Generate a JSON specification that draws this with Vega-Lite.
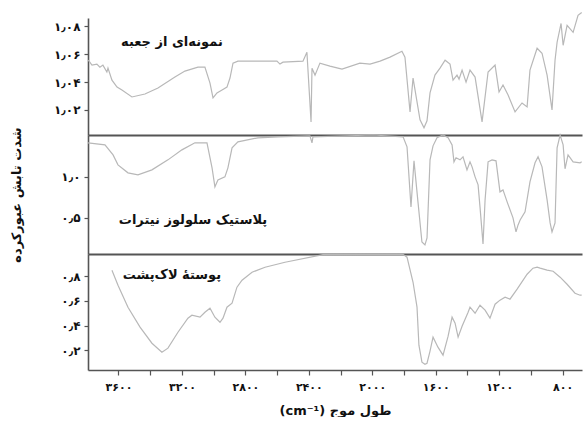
{
  "$schema": "https://vega.github.io/schema/vega-lite/v6.json",
  "padding": {"left": 10, "top": 10, "right": 0, "bottom": 0},
  "spacing": 0,
  "bounds": "flush",
  "background": "white",
  "config": {
    "view": {"stroke": null},
    "font": "DejaVu Sans",
    "concat": {"spacing": 0},
    "axis": {
      "grid": false,
      "domainColor": "#555555",
      "domainWidth": 1.6,
      "tickColor": "#555555",
      "tickWidth": 1.2,
      "tickSize": 4,
      "labelColor": "#111111",
      "labelFont": "DejaVu Sans",
      "labelFontWeight": "bold",
      "labelFontSize": 11,
      "labelPadding": 4,
      "labelOverlap": false,
      "titleFont": "DejaVu Sans",
      "titleFontWeight": "bold",
      "titleFontSize": 13,
      "titleColor": "#111111"
    }
  },
  "datasets": {
    "box": [
      {"wavenumber": 3790, "transmittance": 1.0557}, {"wavenumber": 3767, "transmittance": 1.0522}, {"wavenumber": 3736, "transmittance": 1.0529}, {"wavenumber": 3717, "transmittance": 1.0507}, {"wavenumber": 3698, "transmittance": 1.0522}, {"wavenumber": 3673, "transmittance": 1.0472}, {"wavenumber": 3666, "transmittance": 1.05}, {"wavenumber": 3641, "transmittance": 1.0414}, {"wavenumber": 3609, "transmittance": 1.0364}, {"wavenumber": 3578, "transmittance": 1.0343}, {"wavenumber": 3515, "transmittance": 1.0293}, {"wavenumber": 3433, "transmittance": 1.0314}, {"wavenumber": 3351, "transmittance": 1.0357}, {"wavenumber": 3244, "transmittance": 1.0436}, {"wavenumber": 3181, "transmittance": 1.0479}, {"wavenumber": 3099, "transmittance": 1.0507}, {"wavenumber": 3055, "transmittance": 1.0507}, {"wavenumber": 3023, "transmittance": 1.0393}, {"wavenumber": 3004, "transmittance": 1.0286}, {"wavenumber": 2979, "transmittance": 1.0322}, {"wavenumber": 2947, "transmittance": 1.0343}, {"wavenumber": 2916, "transmittance": 1.0364}, {"wavenumber": 2897, "transmittance": 1.0429}, {"wavenumber": 2878, "transmittance": 1.0536}, {"wavenumber": 2847, "transmittance": 1.055}, {"wavenumber": 2721, "transmittance": 1.055}, {"wavenumber": 2601, "transmittance": 1.055}, {"wavenumber": 2582, "transmittance": 1.0529}, {"wavenumber": 2563, "transmittance": 1.0543}, {"wavenumber": 2437, "transmittance": 1.055}, {"wavenumber": 2412, "transmittance": 1.0614}, {"wavenumber": 2386, "transmittance": 1.0114}, {"wavenumber": 2380, "transmittance": 1.05}, {"wavenumber": 2361, "transmittance": 1.045}, {"wavenumber": 2330, "transmittance": 1.0536}, {"wavenumber": 2267, "transmittance": 1.0514}, {"wavenumber": 2191, "transmittance": 1.0493}, {"wavenumber": 2078, "transmittance": 1.0536}, {"wavenumber": 2014, "transmittance": 1.0529}, {"wavenumber": 1951, "transmittance": 1.055}, {"wavenumber": 1888, "transmittance": 1.0579}, {"wavenumber": 1813, "transmittance": 1.0621}, {"wavenumber": 1794, "transmittance": 1.0579}, {"wavenumber": 1762, "transmittance": 1.0186}, {"wavenumber": 1743, "transmittance": 1.0429}, {"wavenumber": 1699, "transmittance": 1.0129}, {"wavenumber": 1674, "transmittance": 1.0072}, {"wavenumber": 1655, "transmittance": 1.0122}, {"wavenumber": 1636, "transmittance": 1.0322}, {"wavenumber": 1605, "transmittance": 1.045}, {"wavenumber": 1573, "transmittance": 1.05}, {"wavenumber": 1541, "transmittance": 1.0557}, {"wavenumber": 1510, "transmittance": 1.0529}, {"wavenumber": 1491, "transmittance": 1.0414}, {"wavenumber": 1466, "transmittance": 1.045}, {"wavenumber": 1453, "transmittance": 1.0421}, {"wavenumber": 1434, "transmittance": 1.0486}, {"wavenumber": 1409, "transmittance": 1.04}, {"wavenumber": 1384, "transmittance": 1.0486}, {"wavenumber": 1352, "transmittance": 1.0436}, {"wavenumber": 1308, "transmittance": 1.0114}, {"wavenumber": 1270, "transmittance": 1.0472}, {"wavenumber": 1226, "transmittance": 1.0522}, {"wavenumber": 1201, "transmittance": 1.0329}, {"wavenumber": 1176, "transmittance": 1.0379}, {"wavenumber": 1144, "transmittance": 1.0307}, {"wavenumber": 1100, "transmittance": 1.0186}, {"wavenumber": 1056, "transmittance": 1.025}, {"wavenumber": 1024, "transmittance": 1.0222}, {"wavenumber": 1006, "transmittance": 1.0486}, {"wavenumber": 961, "transmittance": 1.0643}, {"wavenumber": 930, "transmittance": 1.0607}, {"wavenumber": 898, "transmittance": 1.045}, {"wavenumber": 867, "transmittance": 1.02}, {"wavenumber": 848, "transmittance": 1.0557}, {"wavenumber": 835, "transmittance": 1.0686}, {"wavenumber": 810, "transmittance": 1.0821}, {"wavenumber": 797, "transmittance": 1.0664}, {"wavenumber": 772, "transmittance": 1.0807}, {"wavenumber": 734, "transmittance": 1.0757}, {"wavenumber": 703, "transmittance": 1.0879}, {"wavenumber": 680, "transmittance": 1.09}
    ],
    "nitrocellulose": [
      {"wavenumber": 3792, "transmittance": 1.415}, {"wavenumber": 3685, "transmittance": 1.39}, {"wavenumber": 3634, "transmittance": 1.268}, {"wavenumber": 3603, "transmittance": 1.146}, {"wavenumber": 3540, "transmittance": 1.049}, {"wavenumber": 3477, "transmittance": 1.024}, {"wavenumber": 3389, "transmittance": 1.085}, {"wavenumber": 3288, "transmittance": 1.207}, {"wavenumber": 3200, "transmittance": 1.329}, {"wavenumber": 3118, "transmittance": 1.415}, {"wavenumber": 3042, "transmittance": 1.415}, {"wavenumber": 3010, "transmittance": 1.11}, {"wavenumber": 2992, "transmittance": 0.878}, {"wavenumber": 2973, "transmittance": 0.963}, {"wavenumber": 2929, "transmittance": 1.0}, {"wavenumber": 2910, "transmittance": 1.11}, {"wavenumber": 2884, "transmittance": 1.354}, {"wavenumber": 2847, "transmittance": 1.427}, {"wavenumber": 2721, "transmittance": 1.476}, {"wavenumber": 2594, "transmittance": 1.488}, {"wavenumber": 2393, "transmittance": 1.5}, {"wavenumber": 2380, "transmittance": 1.415}, {"wavenumber": 2374, "transmittance": 1.488}, {"wavenumber": 1995, "transmittance": 1.51}, {"wavenumber": 1806, "transmittance": 1.488}, {"wavenumber": 1781, "transmittance": 1.366}, {"wavenumber": 1756, "transmittance": 0.634}, {"wavenumber": 1737, "transmittance": 1.195}, {"wavenumber": 1712, "transmittance": 0.695}, {"wavenumber": 1687, "transmittance": 0.207}, {"wavenumber": 1668, "transmittance": 0.17}, {"wavenumber": 1655, "transmittance": 0.256}, {"wavenumber": 1636, "transmittance": 1.207}, {"wavenumber": 1617, "transmittance": 1.378}, {"wavenumber": 1592, "transmittance": 1.476}, {"wavenumber": 1554, "transmittance": 1.51}, {"wavenumber": 1522, "transmittance": 1.476}, {"wavenumber": 1497, "transmittance": 1.39}, {"wavenumber": 1485, "transmittance": 1.183}, {"wavenumber": 1472, "transmittance": 1.232}, {"wavenumber": 1447, "transmittance": 1.207}, {"wavenumber": 1428, "transmittance": 1.244}, {"wavenumber": 1403, "transmittance": 1.085}, {"wavenumber": 1384, "transmittance": 1.183}, {"wavenumber": 1371, "transmittance": 1.122}, {"wavenumber": 1352, "transmittance": 1.0}, {"wavenumber": 1333, "transmittance": 0.902}, {"wavenumber": 1321, "transmittance": 0.634}, {"wavenumber": 1302, "transmittance": 0.183}, {"wavenumber": 1289, "transmittance": 0.719}, {"wavenumber": 1270, "transmittance": 1.183}, {"wavenumber": 1245, "transmittance": 1.207}, {"wavenumber": 1220, "transmittance": 1.195}, {"wavenumber": 1195, "transmittance": 0.817}, {"wavenumber": 1176, "transmittance": 0.841}, {"wavenumber": 1150, "transmittance": 0.695}, {"wavenumber": 1113, "transmittance": 0.5}, {"wavenumber": 1094, "transmittance": 0.329}, {"wavenumber": 1081, "transmittance": 0.414}, {"wavenumber": 1068, "transmittance": 0.475}, {"wavenumber": 1037, "transmittance": 0.573}, {"wavenumber": 1006, "transmittance": 0.939}, {"wavenumber": 974, "transmittance": 1.171}, {"wavenumber": 955, "transmittance": 1.244}, {"wavenumber": 930, "transmittance": 1.122}, {"wavenumber": 898, "transmittance": 0.719}, {"wavenumber": 879, "transmittance": 0.439}, {"wavenumber": 867, "transmittance": 0.329}, {"wavenumber": 848, "transmittance": 0.439}, {"wavenumber": 835, "transmittance": 1.354}, {"wavenumber": 816, "transmittance": 1.51}, {"wavenumber": 797, "transmittance": 1.39}, {"wavenumber": 785, "transmittance": 1.098}, {"wavenumber": 766, "transmittance": 1.268}, {"wavenumber": 734, "transmittance": 1.183}, {"wavenumber": 690, "transmittance": 1.171}, {"wavenumber": 680, "transmittance": 1.183}
    ],
    "shell": [
      {"wavenumber": 3641, "transmittance": 0.849}, {"wavenumber": 3603, "transmittance": 0.727}, {"wavenumber": 3540, "transmittance": 0.549}, {"wavenumber": 3464, "transmittance": 0.387}, {"wavenumber": 3389, "transmittance": 0.257}, {"wavenumber": 3326, "transmittance": 0.184}, {"wavenumber": 3288, "transmittance": 0.217}, {"wavenumber": 3225, "transmittance": 0.346}, {"wavenumber": 3162, "transmittance": 0.46}, {"wavenumber": 3137, "transmittance": 0.484}, {"wavenumber": 3086, "transmittance": 0.468}, {"wavenumber": 3055, "transmittance": 0.508}, {"wavenumber": 3023, "transmittance": 0.541}, {"wavenumber": 2992, "transmittance": 0.468}, {"wavenumber": 2960, "transmittance": 0.427}, {"wavenumber": 2941, "transmittance": 0.46}, {"wavenumber": 2916, "transmittance": 0.549}, {"wavenumber": 2884, "transmittance": 0.581}, {"wavenumber": 2853, "transmittance": 0.711}, {"wavenumber": 2821, "transmittance": 0.768}, {"wavenumber": 2758, "transmittance": 0.832}, {"wavenumber": 2676, "transmittance": 0.873}, {"wavenumber": 2550, "transmittance": 0.913}, {"wavenumber": 2311, "transmittance": 0.975}, {"wavenumber": 1806, "transmittance": 0.978}, {"wavenumber": 1781, "transmittance": 0.954}, {"wavenumber": 1743, "transmittance": 0.751}, {"wavenumber": 1718, "transmittance": 0.549}, {"wavenumber": 1706, "transmittance": 0.241}, {"wavenumber": 1687, "transmittance": 0.103}, {"wavenumber": 1668, "transmittance": 0.087}, {"wavenumber": 1655, "transmittance": 0.095}, {"wavenumber": 1636, "transmittance": 0.193}, {"wavenumber": 1617, "transmittance": 0.306}, {"wavenumber": 1586, "transmittance": 0.225}, {"wavenumber": 1554, "transmittance": 0.16}, {"wavenumber": 1522, "transmittance": 0.314}, {"wavenumber": 1497, "transmittance": 0.468}, {"wavenumber": 1478, "transmittance": 0.419}, {"wavenumber": 1459, "transmittance": 0.306}, {"wavenumber": 1434, "transmittance": 0.395}, {"wavenumber": 1396, "transmittance": 0.508}, {"wavenumber": 1384, "transmittance": 0.549}, {"wavenumber": 1352, "transmittance": 0.5}, {"wavenumber": 1321, "transmittance": 0.565}, {"wavenumber": 1289, "transmittance": 0.525}, {"wavenumber": 1258, "transmittance": 0.46}, {"wavenumber": 1226, "transmittance": 0.573}, {"wavenumber": 1195, "transmittance": 0.606}, {"wavenumber": 1163, "transmittance": 0.63}, {"wavenumber": 1132, "transmittance": 0.614}, {"wavenumber": 1087, "transmittance": 0.695}, {"wavenumber": 1024, "transmittance": 0.816}, {"wavenumber": 987, "transmittance": 0.865}, {"wavenumber": 961, "transmittance": 0.873}, {"wavenumber": 942, "transmittance": 0.865}, {"wavenumber": 898, "transmittance": 0.849}, {"wavenumber": 860, "transmittance": 0.84}, {"wavenumber": 816, "transmittance": 0.792}, {"wavenumber": 772, "transmittance": 0.735}, {"wavenumber": 722, "transmittance": 0.662}, {"wavenumber": 690, "transmittance": 0.646}, {"wavenumber": 680, "transmittance": 0.646}
    ]
  },
  "vconcat": [
    {
      "width": 494,
      "height": 117,
      "layer": [
        {
          "data": {"name": "box"},
          "mark": {"type": "line", "color": "#b8b8b8", "strokeWidth": 1.2},
          "encoding": {
            "x": {"field": "wavenumber", "type": "quantitative", "scale": {"domain": [678, 3792], "reverse": true, "nice": false, "zero": false},
              "axis": {"title": null, "labels": false, "ticks": false, "domain": true, "domainWidth": 2, "minExtent": 0, "maxExtent": 0}},
            "y": {"field": "transmittance", "type": "quantitative", "scale": {"domain": [1.002, 1.086], "nice": false, "zero": false},
              "axis": {"title": null, "tickCount": 20, "labelOverlap": false, "labelFontSize": 12, "values": [1.02, 1.04, 1.06, 1.08], "labelExpr": "datum.value < 1.03 ? '۱٫۰۲' : datum.value < 1.05 ? '۱٫۰۴' : datum.value < 1.07 ? '۱٫۰۶' : '۱٫۰۸'"}}
          }
        },
        {
          "data": {"values": [{}]},
          "mark": {"type": "text", "font": "DejaVu Sans", "fontWeight": "bold", "fontSize": 13, "color": "#111111", "align": "center", "baseline": "middle"},
          "encoding": {
            "x": {"datum": 3263, "type": "quantitative"},
            "y": {"datum": 1.0686, "type": "quantitative"},
            "text": {"value": "نمونه‌ای از جعبه"}
          }
        }
      ]
    },
    {
      "width": 494,
      "height": 119,
      "layer": [
        {
          "data": {"name": "nitrocellulose"},
          "mark": {"type": "line", "color": "#b8b8b8", "strokeWidth": 1.2},
          "encoding": {
            "x": {"field": "wavenumber", "type": "quantitative", "scale": {"domain": [678, 3792], "reverse": true, "nice": false, "zero": false},
              "axis": {"title": null, "labels": false, "ticks": false, "domain": true, "domainWidth": 2, "minExtent": 0, "maxExtent": 0}},
            "y": {"field": "transmittance", "type": "quantitative", "scale": {"domain": [0.06, 1.51], "nice": false, "zero": false},
              "axis": {"title": "شدت تابش عبورکرده", "titlePadding": 37, "tickCount": 20, "labelOverlap": false, "labelFontSize": 12, "values": [0.5, 1.0], "labelExpr": "datum.value < 0.75 ? '۰٫۵' : '۱٫۰'"}}
          }
        },
        {
          "data": {"values": [{}]},
          "mark": {"type": "text", "font": "DejaVu Sans", "fontWeight": "bold", "fontSize": 13, "color": "#111111", "align": "center", "baseline": "middle"},
          "encoding": {
            "x": {"datum": 3130, "type": "quantitative"},
            "y": {"datum": 0.475, "type": "quantitative"},
            "text": {"value": "پلاستیک سلولوز نیترات"}
          }
        }
      ]
    },
    {
      "width": 494,
      "height": 116,
      "layer": [
        {
          "data": {"name": "shell"},
          "mark": {"type": "line", "color": "#b8b8b8", "strokeWidth": 1.2},
          "encoding": {
            "x": {"field": "wavenumber", "type": "quantitative", "scale": {"domain": [678, 3792], "reverse": true, "nice": false, "zero": false},
              "axis": {"title": "(cm⁻¹) طول موج", "titlePadding": 12, "tickSize": 5, "labelPadding": 6, "tickCount": 30, "labelOverlap": false,
                "values": [3600, 3400, 3200, 3000, 2800, 2600, 2400, 2200, 2000, 1800, 1600, 1400, 1200, 1000, 800],
                "labelExpr": "datum.value == 3600 ? '۳۶۰۰' : datum.value == 3200 ? '۳۲۰۰' : datum.value == 2800 ? '۲۸۰۰' : datum.value == 2400 ? '۲۴۰۰' : datum.value == 2000 ? '۲۰۰۰' : datum.value == 1600 ? '۱۶۰۰' : datum.value == 1200 ? '۱۲۰۰' : datum.value == 800 ? '۸۰۰' : ''"}},
            "y": {"field": "transmittance", "type": "quantitative", "scale": {"domain": [0.04, 0.98], "nice": false, "zero": false},
              "axis": {"title": null, "tickCount": 20, "labelOverlap": false, "labelFontSize": 12, "values": [0.2, 0.4, 0.6, 0.8], "labelExpr": "datum.value < 0.3 ? '۰٫۲' : datum.value < 0.5 ? '۰٫۴' : datum.value < 0.7 ? '۰٫۶' : '۰٫۸'"}}
          }
        },
        {
          "data": {"values": [{}]},
          "mark": {"type": "text", "font": "DejaVu Sans", "fontWeight": "bold", "fontSize": 13, "color": "#111111", "align": "center", "baseline": "middle"},
          "encoding": {
            "x": {"datum": 3263, "type": "quantitative"},
            "y": {"datum": 0.808, "type": "quantitative"},
            "text": {"value": "پوستهٔ لاک‌پشت"}
          }
        }
      ]
    }
  ]
}
